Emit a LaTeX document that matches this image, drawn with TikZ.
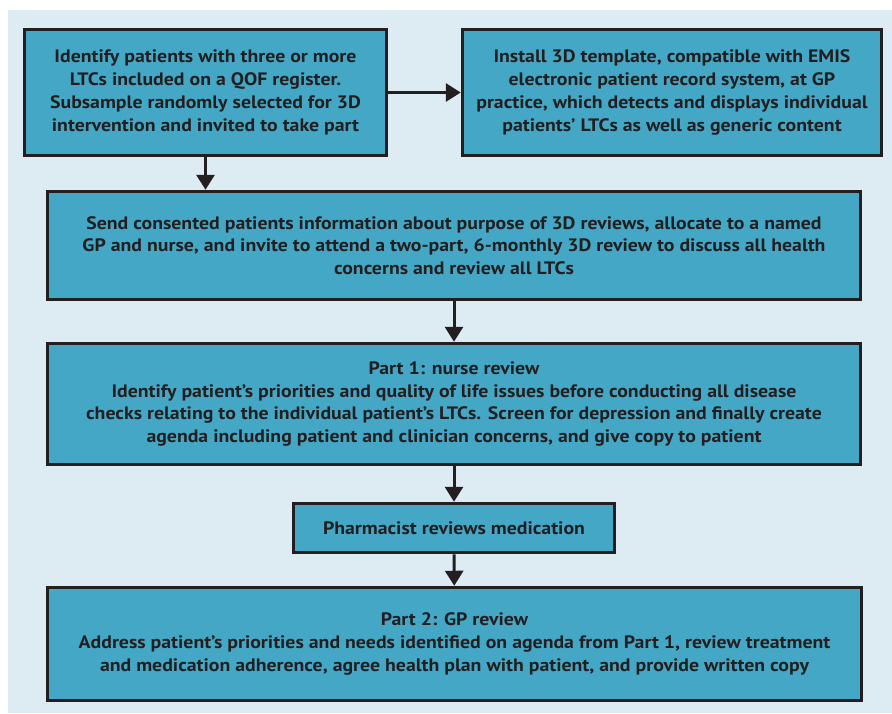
\documentclass[tikz,border=0pt]{standalone}
\usepackage{fontspec}
\setmainfont[FakeStretch=1.1]{PT Sans}
\usetikzlibrary{arrows.meta}
\definecolor{bgblue}{HTML}{DDEBF2}
\definecolor{boxblue}{HTML}{44A7C6}
\definecolor{ink}{HTML}{231F20}

\begin{document}
\begin{tikzpicture}[x=1pt, y=-1pt,
    stepbox/.style={draw=ink, fill=boxblue, line width=3.5pt, align=center, text=ink,
        font=\fontsize{18}{22.8}\selectfont\bfseries, inner sep=0pt},
    link/.style={draw=ink, line width=3pt, -{Triangle[width=18pt, length=15pt]}}]
    \useasboundingbox (0, 0) rectangle (892, 713);
    \fill[bgblue] (8, 10) rectangle (892, 713);
    \node[stepbox, minimum width=362, minimum height=126] (ident) at (205.5, 92.5) {Identify patients with three or more\\LTCs included on a QOF register.\\Subsample randomly selected for 3D\\intervention and invited to take part};
    \node[stepbox, minimum width=419, minimum height=126] (install) at (672, 92.5) {Install 3D template, compatible with EMIS\\electronic patient record system, at GP\\practice, which detects and displays individual\\patients’ LTCs as well as generic content};
    \node[stepbox, minimum width=813, minimum height=108] (send) at (454, 245.5) {Send consented patients information about purpose of 3D reviews, allocate to a named\\GP and nurse, and invite to attend a two-part, 6-monthly 3D review to discuss all health\\concerns and review all LTCs};
    \node[stepbox, minimum width=813, minimum height=121] (nurse) at (454, 404) {Part 1: nurse review\\Identify patient’s priorities and quality of life issues before conducting all disease\\checks relating to the individual patient’s LTCs. Screen for depression and finally create\\agenda including patient and clinician concerns, and give copy to patient};
    \node[stepbox, minimum width=321, minimum height=49] (pharm) at (454, 528) {Pharmacist reviews medication};
    \node[stepbox, minimum width=814, minimum height=113] (gp) at (454.5, 644) {Part 2: GP review\\Address patient’s priorities and needs identified on agenda from Part 1, review treatment\\and medication adherence, agree health plan with patient, and provide written copy};
    \draw[link] (ident) -- (install);
    \draw[link] (ident.south) -- (ident.south |- send.north);
    \draw[link] (send) -- (nurse);
    \draw[link] (nurse) -- (pharm);
    \draw[link] (pharm) -- (gp);
\end{tikzpicture}
\end{document}
